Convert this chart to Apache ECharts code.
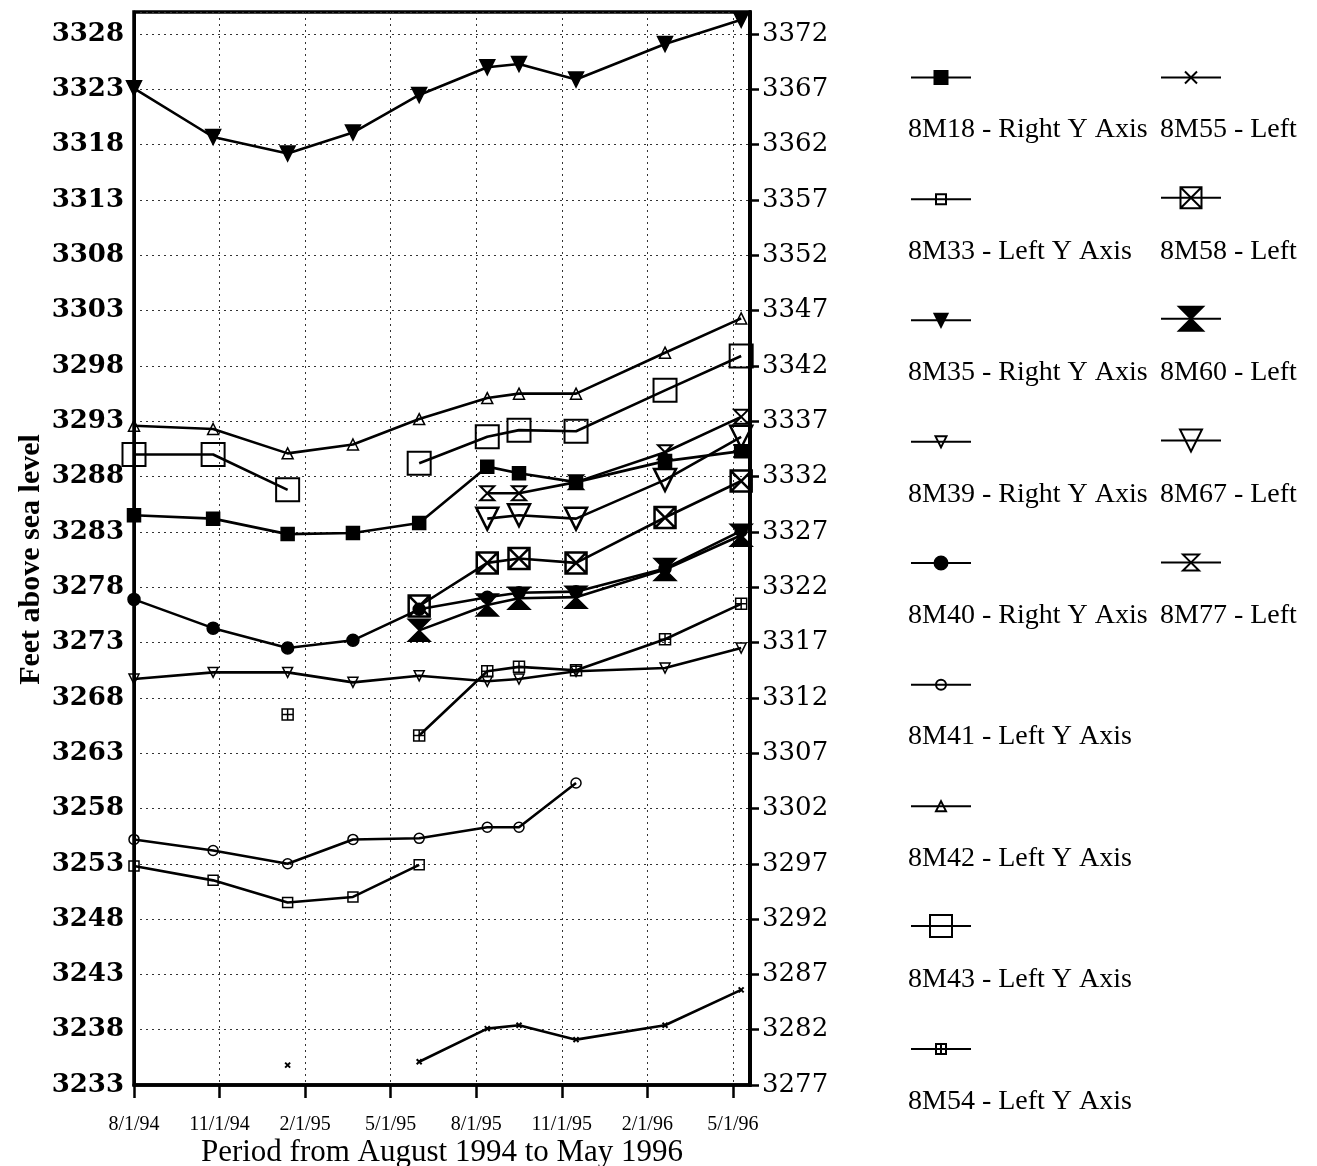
<!DOCTYPE html>
<html lang="en">
<head>
<meta charset="UTF-8" />
<title>Water levels</title>
<script src="https://cdn.jsdelivr.net/npm/echarts@6/dist/echarts.min.js"></script>
<style>html, body { margin: 0; background: #fff; }</style>
</head>
<body>
<div id="main" style="width: 1317px; height: 1166px"></div>
<script>
// sampling dates and x tick labels
const sampleDates = ['1994-08-01', '1994-10-25', '1995-01-13', '1995-03-22', '1995-06-01',
  '1995-08-13', '1995-09-16', '1995-11-16', '1996-02-19', '1996-05-10'];
const tickLabels = ['8/1/94', '11/1/94', '2/1/95', '5/1/95', '8/1/95', '11/1/95', '2/1/96', '5/1/96'];

// water levels, feet above sea level
const m18 = [3328.5, 3328.2, 3326.8, 3326.9, 3327.8, 3332.9, 3332.3, 3331.5, 3333.4, 3334.3]; // right
const m33 = [3252.8, 3251.5, 3249.5, 3250.0, 3252.9, null, null, null, null, null];
const m35 = [3367.1, 3362.7, 3361.2, 3363.1, 3366.5, 3369.0, 3369.3, 3367.9, 3371.1, 3373.3]; // right
const m39 = [3313.7, 3314.3, 3314.3, 3313.4, 3314.0, 3313.5, 3313.7, 3314.4, 3314.7, 3316.5]; // right
const m40 = [3320.9, 3318.3, 3316.5, 3317.2, 3320.0, 3321.1, 3321.5, 3321.6, 3323.7, 3327.1]; // right
const m41 = [3255.2, 3254.2, 3253.0, 3255.2, 3255.3, 3256.3, 3256.3, 3260.3, null, null];
const m42 = [3292.6, 3292.3, 3290.1, 3290.9, 3293.2, 3295.1, 3295.5, 3295.5, 3299.2, 3302.3];
const m43 = [3290.0, 3290.0, 3286.8, null, 3289.2, 3291.6, 3292.2, 3292.1, 3295.8, 3298.9];
const m54 = [null, null, 3266.5, null, 3264.6, 3270.4, 3270.8, 3270.5, 3273.3, 3276.5];
const m55 = [null, null, 3234.8, null, 3235.1, 3238.1, 3238.4, 3237.1, 3238.4, 3241.6];
const m58 = [null, null, null, null, 3276.3, 3280.2, 3280.6, 3280.2, 3284.3, 3287.6];
const m60 = [null, null, null, null, 3274.1, 3276.4, 3277.0, 3277.1, 3279.6, 3282.7];
const m67 = [null, null, null, null, null, 3284.2, 3284.5, 3284.2, 3287.7, 3291.6];
const m77 = [null, null, null, null, null, 3286.5, 3286.5, 3287.5, 3290.2, 3293.4];

const LEFT_BASE = 3233;
const RIGHT_BASE = 3277;

function monthsFromStart(s) {
  const [y, m, d] = s.split('-').map(Number);
  const dim = new Date(y, m, 0).getDate();
  return (y - 1994) * 12 + (m - 8) + (d - 1) / dim;
}
const xs = sampleDates.map(monthsFromStart);

const downTri = 'path://M0,0 L10,0 L5,9 Z';
const squarePlus = 'path://M0,0 L10,0 L10,10 L0,10 Z M5,0 L5,10 M0,5 L10,5';
const squareX = 'path://M0,0 L10,0 L10,10 L0,10 Z M0,0 L10,10 M10,0 L0,10';
const hourglass = 'path://M0,0 L10,0 L0,10 L10,10 Z';
const cross = 'path://M0,0 L10,10 M10,0 L0,10';

// legendSize: symbol size wanted in the legend
function mk(name, values, right, symbol, size, filled, legendSize, bw) {
  const base = right ? RIGHT_BASE : LEFT_BASE;
  return {
    name, type: 'line', yAxisIndex: right ? 1 : 0,
    data: values.map((v, i) => [xs[i], v == null ? '-' : +(v - base).toFixed(2)]),
    symbol, symbolSize: size, showSymbol: true,
    lineStyle: { color: '#000', width: 2.6 },
    itemStyle: { color: filled ? '#000' : 'rgba(0,0,0,0)', borderColor: '#000', borderWidth: bw || 1.5 },
    emphasis: { disabled: true },
    legendSize
  };
}

const series = [
  mk('8M18 - Right Y Axis', m18, true, 'rect', 13, true, 13),
  mk('8M33 - Left Y Axis', m33, false, 'rect', 10, false, 10),
  mk('8M35 - Right Y Axis', m35, true, downTri, 15, true, 13),
  mk('8M39 - Right Y Axis', m39, true, downTri, 10, false, 11),
  mk('8M40 - Right Y Axis', m40, true, 'circle', 12, true, 13),
  mk('8M41 - Left Y Axis', m41, false, 'circle', 10, false, 10),
  mk('8M42 - Left Y Axis', m42, false, 'triangle', 11, false, 10),
  mk('8M43 - Left Y Axis', m43, false, 'rect', 23, false, 22, 2),
  mk('8M54 - Left Y Axis', m54, false, squarePlus, 11, false, 10),
  mk('8M55 - Left', m55, false, cross, 5, true, 12, 2),
  mk('8M58 - Left', m58, false, squareX, 21, false, 21, 2.5),
  mk('8M60 - Left', m60, false, hourglass, 22, true, 24),
  mk('8M67 - Left', m67, false, downTri, 22, false, 22, 2.5),
  mk('8M77 - Left', m77, false, hourglass, 14, false, 16, 2)
];
const names = series.map(s => s.name);
const col1 = names.slice(0, 9);
const col2 = names.slice(9);

const serif = 'Liberation Serif';
const pitch = 121.4;
const legends = [];
series.forEach((s, i) => {
  const col = i < 9 ? 0 : 1;
  const row = col ? i - 9 : i;
  const h = s.legendSize / 0.8;
  legends.push({
    data: [s.name], left: col ? 1160 : 910, top: 78 + row * pitch - h / 2,
    itemWidth: 60, itemHeight: h, padding: 0, formatter: () => '',
    textStyle: { fontSize: 10, lineHeight: 10 }, selectedMode: false
  });
});
[col1, col2].forEach((data, col) => {
  legends.push({
    data, orient: 'vertical', left: col ? 1154 : 902, top: 115, icon: 'none',
    itemWidth: 1, itemHeight: 30, itemGap: pitch - 30, padding: 0, selectedMode: false,
    textStyle: { fontFamily: serif, fontSize: 28, color: '#000', lineHeight: 30 }
  });
});

const dotted = { show: true, lineStyle: { color: '#333', width: 1, type: [2, 4] } };

const chart = echarts.init(document.getElementById('main'));
chart.setOption({
  animation: false,
  backgroundColor: '#fff',
  grid: {
    show: true, borderColor: '#000', borderWidth: 3.5,
    left: 134, right: 567, top: 12, bottom: 81,
    containLabel: false, outerBoundsMode: 'none'
  },
  legend: legends,
  xAxis: {
    type: 'value', min: 0, max: 21.6, interval: 3,
    name: 'Period from August 1994 to May 1996', nameLocation: 'middle', nameGap: 52,
    nameMoveOverlap: false,
    nameTextStyle: { fontFamily: serif, fontSize: 31, color: '#000' },
    axisLine: { lineStyle: { color: '#000', width: 3.5 } },
    axisTick: { length: 13, lineStyle: { color: '#000', width: 2.5 } },
    axisLabel: { margin: 30, fontFamily: serif, fontSize: 20, color: '#000',
      showMaxLabel: false, formatter: v => tickLabels[Math.round(v / 3)] || '' },
    splitLine: dotted
  },
  yAxis: [{
    type: 'value', position: 'left', min: 0, max: 97, interval: 5,
    name: 'Feet above sea level', nameLocation: 'middle', nameGap: 88,
    nameMoveOverlap: false,
    nameTextStyle: { fontFamily: serif, fontWeight: 'bold', fontSize: 30, color: '#000', padding: [0, 22, 0, 0] },
    axisLine: { show: true, lineStyle: { color: '#000', width: 3 } },
    axisTick: { show: false },
    axisLabel: { margin: 10, fontFamily: 'DejaVu Serif', fontWeight: 'bold', fontSize: 26, color: '#000',
      showMaxLabel: false, formatter: v => String(v + LEFT_BASE) },
    splitLine: dotted
  }, {
    type: 'value', position: 'right', min: 0, max: 97, interval: 5,
    axisLine: { show: true, lineStyle: { color: '#000', width: 4 } },
    axisTick: { show: true, length: 9, lineStyle: { color: '#000', width: 2.5 } },
    axisLabel: { margin: 12, fontFamily: 'DejaVu Serif', fontSize: 26, color: '#000',
      showMaxLabel: false, formatter: v => String(v + RIGHT_BASE) },
    splitLine: { show: false }
  }],
  series
});
</script>
</body>
</html>
